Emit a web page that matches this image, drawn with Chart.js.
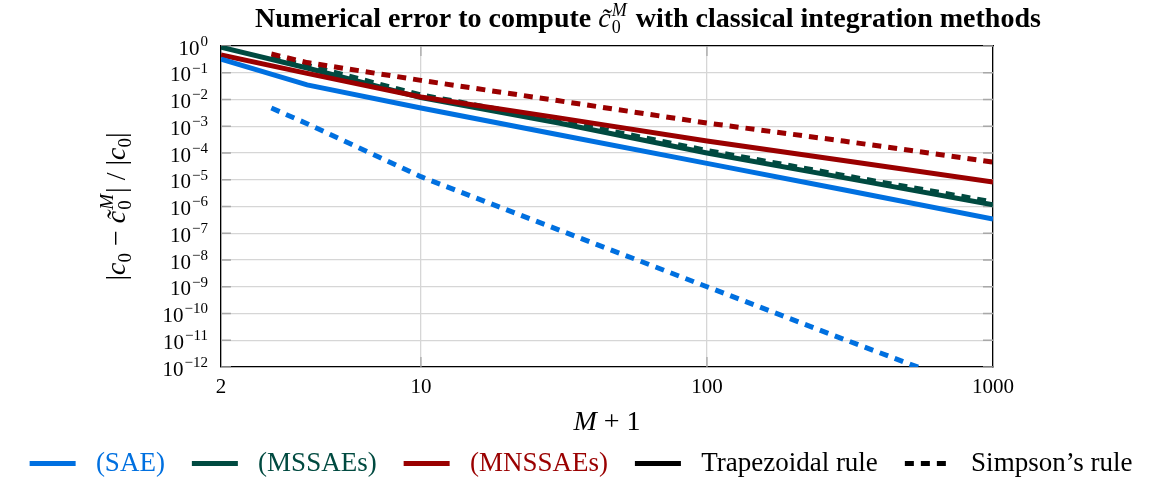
<!DOCTYPE html>
<html>
<head>
<meta charset="utf-8">
<script src="https://cdn.jsdelivr.net/npm/chart.js@4"></script>
<style>
  html, body { margin: 0; padding: 0; background: #fff; }
  #wrap { width: 1162px; height: 487px; }
</style>
</head>
<body>
<div id="wrap"><canvas id="errChart"></canvas></div>
<script>
// M+1 sample points for each rule
const mTrap = [2, 4, 10, 30, 100, 300, 1000];
const mSimp = [3, 4, 10, 30, 100, 300, 1000];

// relative error |c0 - c0~M| / |c0|
const saeTrap    = [0.32, 0.035, 4.8e-3, 4.9e-4, 4.1e-5, 4.2e-6, 3.4e-7];
const saeSimp    = [4.8e-3, 1.25e-3, 1.3e-5, 1.4e-7, 1.0e-9, 1.1e-11, 8.7e-14];
const mssaeTrap  = [0.9, 0.15, 0.0118, 1.35e-3, 1.0e-4, 1.2e-5, 1.15e-6];
const mssaeSimp  = [0.36, 0.19, 0.0148, 1.7e-3, 1.24e-4, 1.45e-5, 1.48e-6];
const mnssaeTrap = [0.46, 0.095, 0.0124, 2.1e-3, 2.8e-4, 5.2e-5, 8.3e-6];
const mnssaeSimp = [0.5, 0.24, 0.052, 9.1e-3, 1.32e-3, 2.8e-4, 4.6e-5];

const xTicks = [2, 10, 100, 1000];
const yExponents = [0, -1, -2, -3, -4, -5, -6, -7, -8, -9, -10, -11, -12];

// leading space widens the gap after each line sample
const legendNames = [' (SAE)', ' (MSSAEs)', ' (MNSSAEs)', ' Trapezoidal rule', ' Simpson\u2019s rule'];

const blue = '#0070e0';
const green = '#004a40';
const red = '#9a0000';
const gridColor = '#d6d6d6';
const serif = '"Liberation Serif", "Times New Roman", serif';
const simpDash = [9, 7];

const toPoints = (xs, ys) => xs.map((m, i) => ({x: m, y: ys[i]}));

function lineSet(label, xs, ys, color, dashed, order) {
  return {
    label: label,
    data: toPoints(xs, ys),
    borderColor: color,
    backgroundColor: color,
    borderWidth: 5,
    borderDash: dashed ? simpDash : [],
    pointRadius: 0,
    tension: 0,
    fill: false,
    order: order
  };
}

// draws a run of text pieces (plain, or stacked sub/superscript) left to right
function layoutRun(ctx, run, draw, x, y) {
  let cx = x;
  for (const p of run) {
    if (p.sub !== undefined) {
      ctx.font = p.font;
      const w1 = ctx.measureText(p.sub).width;
      let w2 = 0;
      if (p.sup) {
        ctx.font = p.supFont;
        w2 = ctx.measureText(p.sup).width;
      }
      if (draw) {
        ctx.font = p.font;
        ctx.fillText(p.sub, cx, y + p.subDy);
        if (p.sup) {
          ctx.font = p.supFont;
          ctx.fillText(p.sup, cx, y + p.supDy);
        }
      }
      cx += Math.max(w1, w2) + (p.gap || 0);
    } else {
      ctx.font = p.font;
      if (draw) ctx.fillText(p.t, cx, y + (p.dy || 0));
      cx += ctx.measureText(p.t).width + (p.gap || 0);
    }
  }
  return cx - x;
}

function drawRunCentered(ctx, run, cx, y) {
  const w = layoutRun(ctx, run, false, 0, 0);
  layoutRun(ctx, run, true, cx - w / 2, y);
}

const textPlugin = {
  id: 'mathText',
  beforeDatasetsDraw(chart) {
    // short darker tick marks inside the frame
    const ctx = chart.ctx;
    const area = chart.chartArea;
    const xs = chart.scales.x;
    const ys = chart.scales.y;
    ctx.save();
    ctx.strokeStyle = '#a8a8a8';
    ctx.lineWidth = 1.3;
    ctx.beginPath();
    yExponents.forEach(e => {
      const py = ys.getPixelForValue(Math.pow(10, e));
      ctx.moveTo(area.left, py); ctx.lineTo(area.left + 10, py);
      ctx.moveTo(area.right, py); ctx.lineTo(area.right - 10, py);
    });
    xTicks.slice(1, -1).forEach(v => {
      const px = xs.getPixelForValue(v);
      ctx.moveTo(px, area.bottom); ctx.lineTo(px, area.bottom - 10);
      ctx.moveTo(px, area.top); ctx.lineTo(px, area.top + 10);
    });
    ctx.stroke();
    ctx.restore();
  },
  afterDraw(chart) {
    const ctx = chart.ctx;
    const area = chart.chartArea;
    const ys = chart.scales.y;
    ctx.save();
    ctx.fillStyle = '#000';

    // y tick labels 10^e
    const baseFont = '21px ' + serif;
    const supFont = '15px ' + serif;
    ctx.textBaseline = 'middle';
    ctx.textAlign = 'left';
    yExponents.forEach(e => {
      const py = ys.getPixelForValue(Math.pow(10, e));
      const sup = e === 0 ? '0' : '\u2212' + Math.abs(e);
      ctx.font = supFont;
      const ws = ctx.measureText(sup).width;
      ctx.font = baseFont;
      const wb = ctx.measureText('10').width;
      const right = area.left - 13;
      ctx.fillText('10', right - ws - wb - 1, py + 3);
      ctx.font = supFont;
      ctx.fillText(sup, right - ws, py - 4);
    });

    ctx.textBaseline = 'alphabetic';

    // title
    const B = 'bold 28px ' + serif;
    drawRunCentered(ctx, [
      {t: 'Numerical error to compute ', font: B},
      {t: 'c\u0303', font: 'italic 28px ' + serif, gap: 1},
      {sub: '0', sup: 'M', font: '18px ' + serif, supFont: 'italic 18px ' + serif, subDy: 6, supDy: -11, gap: 2},
      {t: ' with classical integration methods', font: B}
    ], 648, 27);

    // x axis label
    drawRunCentered(ctx, [
      {t: 'M', font: 'italic 28px ' + serif},
      {t: ' + 1', font: '28px ' + serif}
    ], (area.left + area.right) / 2, 430);

    // y axis label, rotated
    const N = '28px ' + serif;
    const I = 'italic 28px ' + serif;
    const S = '19px ' + serif;
    const SI = 'italic 19px ' + serif;
    ctx.translate(118, (area.top + area.bottom) / 2);
    ctx.rotate(-Math.PI / 2);
    drawRunCentered(ctx, [
      {t: '|', font: N},
      {t: 'c', font: I},
      {sub: '0', font: S, subDy: 6},
      {t: ' \u2212 ', font: N},
      {t: 'c\u0303', font: I, gap: 1},
      {sub: '0', sup: 'M', font: S, supFont: SI, subDy: 6, supDy: -12, gap: 1},
      {t: '|', font: N},
      {t: ' / ', font: N},
      {t: '|', font: N},
      {t: 'c', font: I},
      {sub: '0', font: S, subDy: 6},
      {t: '|', font: N}
    ], 0, 7);
    ctx.restore();
  }
};

const legendColors = [blue, green, red, '#000', '#000'];
const legendDashes = [[], [], [], [], simpDash];

new Chart(document.getElementById('errChart'), {
  type: 'line',
  data: {
    datasets: [
      lineSet('SAE trapezoidal', mTrap, saeTrap, blue, false, 2),
      lineSet('SAE Simpson', mSimp, saeSimp, blue, true, 1),
      lineSet('MSSAEs trapezoidal', mTrap, mssaeTrap, green, false, 5),
      lineSet('MSSAEs Simpson', mSimp, mssaeSimp, green, true, 6),
      lineSet('MNSSAEs trapezoidal', mTrap, mnssaeTrap, red, false, 4),
      lineSet('MNSSAEs Simpson', mSimp, mnssaeSimp, red, true, 3)
    ]
  },
  options: {
    responsive: true,
    maintainAspectRatio: false,
    animation: false,
    devicePixelRatio: 1,
    layout: {padding: 0},
    scales: {
      x: {
        type: 'logarithmic',
        position: 'bottom',
        min: 2,
        max: 1000,
        afterBuildTicks: s => { s.ticks = xTicks.map(v => ({value: v})); },
        afterFit: s => { s.height = 56; },
        grid: {color: gridColor, lineWidth: 1.3, drawTicks: false},
        border: {color: '#000', width: 1.3},
        ticks: {
          font: {family: serif, size: 21},
          color: '#000',
          padding: 8,
          maxRotation: 0,
          autoSkip: false,
          callback: v => String(v)
        }
      },
      y: {
        type: 'logarithmic',
        position: 'left',
        min: 1e-12,
        max: 1,
        afterBuildTicks: s => { s.ticks = yExponents.map(e => ({value: Math.pow(10, e)})); },
        afterFit: s => { s.width = 221; },
        grid: {color: gridColor, lineWidth: 1.3, drawTicks: false},
        border: {color: '#000', width: 1.3},
        ticks: {display: false}
      },
      xTop: {
        type: 'logarithmic',
        position: 'top',
        min: 2,
        max: 1000,
        afterFit: s => { s.height = 46; },
        grid: {display: false},
        border: {color: '#000', width: 1.3},
        ticks: {display: false}
      },
      yRight: {
        type: 'logarithmic',
        position: 'right',
        min: 1e-12,
        max: 1,
        afterFit: s => { s.width = 169; },
        grid: {display: false},
        border: {color: '#000', width: 1.3},
        ticks: {display: false}
      }
    },
    plugins: {
      tooltip: {enabled: false},
      title: {display: false},
      legend: {
        position: 'bottom',
        onClick: null,
        labels: {
          font: {family: serif, size: 27},
          usePointStyle: true,
          pointStyleWidth: 46,
          padding: 27,
          generateLabels: () => legendNames.map((name, i) => ({
            text: name,
            fontColor: legendColors[i],
            strokeStyle: legendColors[i],
            fillStyle: legendColors[i],
            lineWidth: 5,
            lineDash: legendDashes[i],
            lineCap: 'butt',
            pointStyle: 'line',
            hidden: false
          }))
        }
      }
    }
  },
  plugins: [textPlugin]
});
</script>
</body>
</html>
